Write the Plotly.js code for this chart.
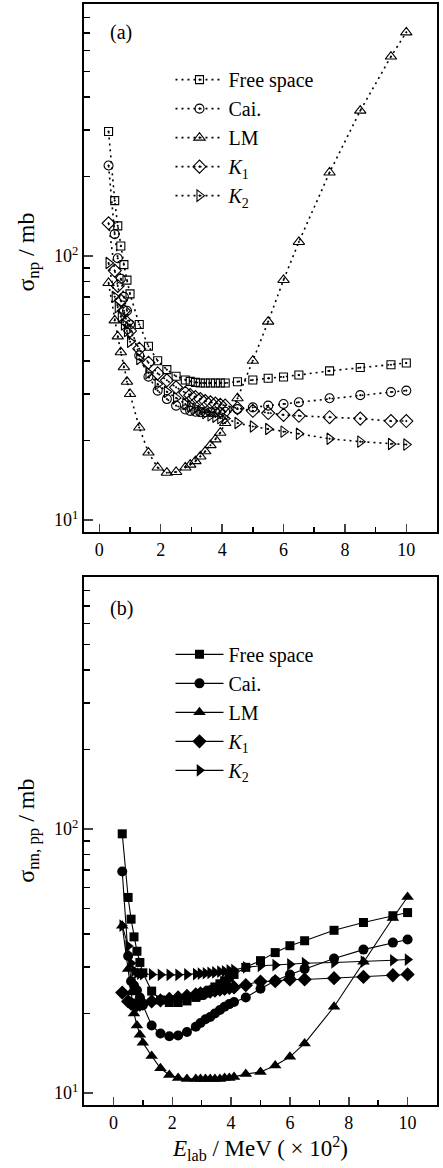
<!DOCTYPE html>
<html>
<head>
<meta charset="utf-8">
<script src="https://cdn.plot.ly/plotly-3.0.1.min.js"></script>
<style>html,body{margin:0;padding:0;background:#fff;}#chart{width:443px;height:1168px;}</style>
</head>
<body>
<div id="chart"></div>
<script>
// Energy grid (E_lab / MeV x 10^2)
const E = [0.3,0.5,0.6,0.7,0.8,0.9,1.0,1.3,1.6,1.9,2.2,2.5,2.8,2.96,3.13,3.29,3.45,3.62,3.78,3.94,4.1,4.5,5,5.5,6,6.5,7.5,8.5,9.5,10];

// Panel (a): sigma_np / mb
const npFree = [296,162,130,109,92.7,81,71.8,55,45.5,40.1,37.1,35,33.9,33.5,33.2,33.0,33.0,33.0,33.0,33.0,33.0,33.4,33.9,34.4,34.8,35.4,36.7,37.8,38.7,39.3];
const npCai  = [220,121,98,82,70,62,55,42,34.9,30.9,28.7,27.1,26.2,25.9,25.7,25.6,25.6,25.6,25.6,25.6,25.7,26.3,26.7,27.1,27.5,27.9,28.9,29.7,30.5,30.9];
const npLM   = [79,57,49.6,43.2,37.9,33.4,30,22.4,18,15.8,15.1,15.2,15.8,16.2,16.7,17.4,18.2,19.2,20.2,21.4,23.3,28.9,40.1,56.4,81.1,113,207,355,569,703];
const npK1   = [133,88,77,67.8,62,56,52,44.5,39.4,35.9,33.8,31.8,30.3,29.7,29.2,28.7,28.2,27.9,27.6,27.3,27.1,26.5,25.9,25.4,25.0,24.8,24.5,24.2,23.7,23.7];
const npK2   = [94,70,64,59,55,52,47.3,40.7,36,32.7,30.6,29,27.5,27,26.4,25.9,25.4,24.9,24.6,24.3,24.2,23.3,22.6,22.1,21.6,21.2,20.3,19.8,19.4,19.3];

// Panel (b): sigma_nn,pp / mb
const ppFree = [95.8,55,45.5,39,34.4,31.2,28.5,24.3,22.5,22,22,22.3,23,23.4,23.9,24.5,25.2,25.9,26.6,27.3,28.1,29.9,31.7,34,36.1,37.7,41.3,44.2,46.9,48.2];
const ppCai  = [69,33,26.5,25.5,24.5,23,21.5,18,16.8,16.4,16.5,17,17.8,18.4,19,19.4,20,20.6,21.2,21.7,22.1,23,24.8,26.6,28.1,29.5,32.3,34.9,37.1,38.1];
const ppLM   = [43,29.5,24,20,18,16.6,15.5,13.8,12.4,11.7,11.4,11.3,11.3,11.3,11.3,11.3,11.3,11.3,11.4,11.4,11.5,11.8,12.0,12.7,13.7,15.4,21.2,31.4,46,55.2];
const ppK1   = [24,22.2,21.8,21.5,21.5,21.6,21.8,22.2,22.4,22.7,23,23.3,23.6,23.8,24,24.2,24.4,24.6,24.8,25,25.1,25.6,26.4,26.5,26.9,26.9,27.2,27.5,27.9,28.1];
const ppK2   = [43,36,31,29,28.5,28.3,28.2,28.1,28,28,28,28.1,28.2,28.3,28.4,28.5,28.6,28.8,28.9,29.1,29.2,29.9,30.3,30.5,30.7,31,31.2,31.4,31.8,32];

const names = ["Free space","Cai.","LM","<i>K</i><sub>1</sub>","<i>K</i><sub>2</sub>"];
const xTicks = [0,2,4,6,8,10];
const xMinor = [1,3,5,7,9];
const yTicks = [10,100];
const yTickText = ["10<sup>1</sup>","10<sup>2</sup>"];
const yMinor = [20,30,40,50,60,70,80,90,200,300,400,500,600,700,800,900];

const FONT = "'Liberation Serif', 'Times New Roman', serif";
const openSym = ["square-open-dot","circle-open-dot","triangle-up-open-dot","diamond-open-dot","triangle-right-open-dot"];
const fillSym = ["square","circle","triangle-up","diamond","triangle-right"];
const sizes = [8,9,10,10,10];
const sizesB = [9,10,11,11,11];

const topSets = [npFree,npCai,npLM,npK1,npK2];
const botSets = [ppFree,ppCai,ppLM,ppK1,ppK2];
const traces = [];
topSets.forEach((ys,i)=>{
  traces.push({x:E,y:ys,name:names[i],xaxis:'x',yaxis:'y',legend:'legend',
    mode:'lines+markers',line:{color:'#000',width:1.6,dash:'2px,4px'},
    marker:{symbol:openSym[i],size:sizes[i],color:'#000',line:{color:'#000',width:1.1}}});
});
botSets.forEach((ys,i)=>{
  traces.push({x:E,y:ys,name:names[i],xaxis:'x2',yaxis:'y2',legend:'legend2',
    mode:'lines+markers',line:{color:'#000',width:1.1},
    marker:{symbol:fillSym[i],size:sizesB[i],color:'#000',line:{color:'#000',width:0}}});
});

function xax(range,anchor){
  return {range:range,anchor:anchor,tickmode:'array',tickvals:xTicks,ticks:'inside',ticklen:8,tickwidth:1.5,
    minor:{tickmode:'array',tickvals:xMinor,ticks:'inside',ticklen:5,tickwidth:1.5,tickcolor:'#000'},
    showline:true,linewidth:2,linecolor:'#000',mirror:true,showgrid:false,zeroline:false,
    tickfont:{family:FONT,size:18,color:'#000'}};
}
function yax(domain,anchor){
  return {type:'log',domain:domain,anchor:anchor,range:[Math.log10(9),Math.log10(900)],
    tickmode:'array',tickvals:yTicks,ticktext:yTickText,ticks:'inside',ticklen:9,tickwidth:1.5,
    minor:{tickmode:'array',tickvals:yMinor,ticks:'inside',ticklen:6,tickwidth:1.5,tickcolor:'#000'},
    showline:true,linewidth:2,linecolor:'#000',mirror:true,showgrid:false,zeroline:false,
    tickfont:{family:FONT,size:18,color:'#000'}};
}

const legFont = {family:FONT,size:20,color:'#000'};
const layout = {
  width:443,height:1168,margin:{l:84,r:6,t:4,b:63},
  paper_bgcolor:'#fff',plot_bgcolor:'#fff',
  font:{family:FONT,color:'#000'},
  xaxis:xax([-0.5,11],'y'),
  yaxis:yax([0.5204,1],'x'),
  xaxis2:Object.assign(xax([-1,11],'y2'),{title:{text:'<i>E</i><sub>lab</sub> / MeV ( × 10<sup>2</sup>)',font:{family:FONT,size:23,color:'#000'},standoff:0}}),
  yaxis2:yax([0,0.4796],'x2'),
  legend:{x:0.245,y:0.949,xanchor:'left',yanchor:'top',bgcolor:'rgba(0,0,0,0)',font:legFont,itemwidth:48,tracegroupgap:0},
  legend2:{x:0.245,y:0.427,xanchor:'left',yanchor:'top',bgcolor:'rgba(0,0,0,0)',font:legFont,itemwidth:48,tracegroupgap:0},
  annotations:[
    {text:'(a)',xref:'paper',yref:'paper',x:0.105,y:0.9737,xanchor:'center',yanchor:'middle',showarrow:false,font:{family:FONT,size:20,color:'#000'}},
    {text:'(b)',xref:'paper',yref:'paper',x:0.105,y:0.4514,xanchor:'center',yanchor:'middle',showarrow:false,font:{family:FONT,size:20,color:'#000'}},
    {text:'σ<sub>np</sub> / mb',xref:'paper',yref:'paper',x:-0.159,y:0.775,xanchor:'center',yanchor:'middle',textangle:-90,showarrow:false,font:{family:FONT,size:24,color:'#000'}},
    {text:'σ<sub>nn, pp</sub> / mb',xref:'paper',yref:'paper',x:-0.159,y:0.249,xanchor:'center',yanchor:'middle',textangle:-90,showarrow:false,font:{family:FONT,size:24,color:'#000'}}
  ],
  showlegend:true
};
Plotly.newPlot('chart',traces,layout,{displayModeBar:false,staticPlot:true});
</script>
</body>
</html>
